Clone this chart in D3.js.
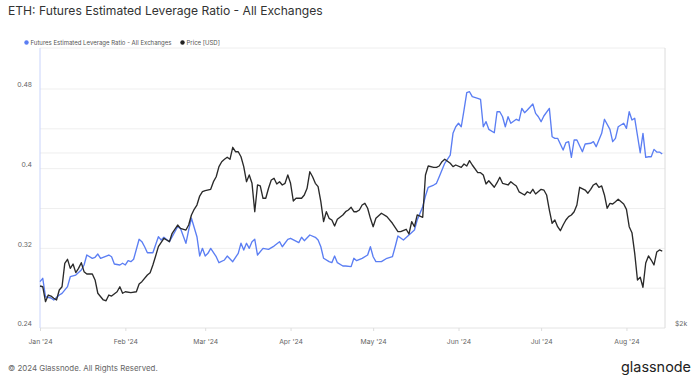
<!DOCTYPE html>
<html><head><meta charset="utf-8">
<script src="https://cdn.jsdelivr.net/npm/d3@7"></script>
<style>body{margin:0;background:#fff;}svg{display:block;font-family:Inter,"Noto Sans",sans-serif;}</style>
</head><body>
<svg id="c" width="699" height="380"></svg>
<script>
// ---- data ----
const titleText = "ETH: Futures Estimated Leverage Ratio - All Exchanges";
const seriesNames = ["Futures Estimated Leverage Ratio - All Exchanges", "Price [USD]"];
const leftTicks = [0.24, 0.32, 0.40, 0.48];
const leftGrid = [0.28, 0.32, 0.36, 0.40, 0.44, 0.48];
const rightTicks = [2000];
const rightGrid = [4000];

const levDates = ["2024-01-01","2024-01-02","2024-01-03","2024-01-05","2024-01-06","2024-01-08","2024-01-09","2024-01-11","2024-01-12","2024-01-14","2024-01-16","2024-01-17","2024-01-18","2024-01-20","2024-01-21","2024-01-22","2024-01-23","2024-01-26","2024-01-27","2024-01-28","2024-01-30","2024-01-31","2024-02-01","2024-02-02","2024-02-03","2024-02-04","2024-02-06","2024-02-07","2024-02-08","2024-02-09","2024-02-11","2024-02-13","2024-02-14","2024-02-15","2024-02-17","2024-02-19","2024-02-20","2024-02-21","2024-02-23","2024-02-24","2024-02-25","2024-02-27","2024-02-28","2024-02-29","2024-03-01","2024-03-02","2024-03-03","2024-03-05","2024-03-06","2024-03-08","2024-03-09","2024-03-11","2024-03-13","2024-03-14","2024-03-15","2024-03-16","2024-03-17","2024-03-18","2024-03-19","2024-03-20","2024-03-22","2024-03-24","2024-03-26","2024-03-28","2024-03-29","2024-03-31","2024-04-01","2024-04-04","2024-04-05","2024-04-06","2024-04-08","2024-04-10","2024-04-11","2024-04-12","2024-04-13","2024-04-15","2024-04-16","2024-04-17","2024-04-18","2024-04-20","2024-04-21","2024-04-23","2024-04-24","2024-04-25","2024-04-27","2024-04-29","2024-04-30","2024-05-01","2024-05-02","2024-05-04","2024-05-06","2024-05-08","2024-05-09","2024-05-10","2024-05-12","2024-05-14","2024-05-16","2024-05-17","2024-05-19","2024-05-20","2024-05-21","2024-05-23","2024-05-24","2024-05-25","2024-05-27","2024-05-29","2024-05-30","2024-05-31","2024-06-01","2024-06-02","2024-06-03","2024-06-04","2024-06-05","2024-06-06","2024-06-08","2024-06-09","2024-06-10","2024-06-11","2024-06-12","2024-06-14","2024-06-15","2024-06-16","2024-06-17","2024-06-18","2024-06-19","2024-06-20","2024-06-22","2024-06-23","2024-06-24","2024-06-25","2024-06-26","2024-06-28","2024-06-29","2024-06-30","2024-07-01","2024-07-02","2024-07-04","2024-07-05","2024-07-06","2024-07-07","2024-07-09","2024-07-10","2024-07-11","2024-07-12","2024-07-13","2024-07-14","2024-07-16","2024-07-17","2024-07-19","2024-07-20","2024-07-21","2024-07-23","2024-07-24","2024-07-26","2024-07-27","2024-07-28","2024-07-29","2024-07-31","2024-08-01","2024-08-02","2024-08-03","2024-08-04","2024-08-06","2024-08-07","2024-08-08","2024-08-09","2024-08-10","2024-08-11","2024-08-12","2024-08-13","2024-08-14"];
const levValues = [0.2865,0.2899,0.2714,0.2701,0.2681,0.2731,0.2748,0.2815,0.2915,0.2932,0.2982,0.3033,0.3133,0.3100,0.3110,0.3143,0.3100,0.3133,0.3116,0.3043,0.3033,0.3050,0.3033,0.3076,0.3066,0.3090,0.3291,0.3267,0.3216,0.3156,0.3156,0.3317,0.3284,0.3311,0.3267,0.3367,0.3417,0.3401,0.3251,0.3384,0.3502,0.3317,0.3123,0.3200,0.3123,0.3150,0.3200,0.3116,0.3056,0.3083,0.3123,0.3066,0.3150,0.3251,0.3183,0.3251,0.3200,0.3267,0.3291,0.3133,0.3200,0.3190,0.3223,0.3267,0.3216,0.3291,0.3301,0.3257,0.3311,0.3277,0.3334,0.3311,0.3284,0.3216,0.3100,0.3066,0.3056,0.3123,0.3056,0.3023,0.3023,0.3016,0.3100,0.3076,0.3100,0.3133,0.3216,0.3116,0.3066,0.3066,0.3100,0.3116,0.3216,0.3324,0.3284,0.3334,0.3384,0.3485,0.3618,0.3726,0.3813,0.3836,0.3853,0.3919,0.4054,0.4137,0.4355,0.4421,0.4456,0.4421,0.4589,0.4763,0.4773,0.4723,0.4707,0.4697,0.4421,0.4472,0.4395,0.4361,0.4572,0.4572,0.4522,0.4421,0.4522,0.4456,0.4496,0.4482,0.4606,0.4562,0.4589,0.4649,0.4556,0.4522,0.4472,0.4529,0.4606,0.4321,0.4305,0.4305,0.4187,0.4261,0.4271,0.4114,0.4288,0.4288,0.4170,0.4248,0.4255,0.4271,0.4221,0.4355,0.4496,0.4395,0.4271,0.4305,0.4421,0.4456,0.4405,0.4572,0.4489,0.4506,0.4160,0.4355,0.4114,0.4120,0.4120,0.4194,0.4167,0.4167,0.4147];

const priceDates = ["2024-01-01","2024-01-02","2024-01-03","2024-01-04","2024-01-05","2024-01-06","2024-01-07","2024-01-08","2024-01-09","2024-01-10","2024-01-11","2024-01-12","2024-01-13","2024-01-14","2024-01-15","2024-01-16","2024-01-17","2024-01-18","2024-01-20","2024-01-21","2024-01-22","2024-01-24","2024-01-25","2024-01-26","2024-01-27","2024-01-29","2024-01-30","2024-01-31","2024-02-01","2024-02-03","2024-02-05","2024-02-06","2024-02-07","2024-02-09","2024-02-10","2024-02-11","2024-02-12","2024-02-13","2024-02-15","2024-02-16","2024-02-17","2024-02-18","2024-02-20","2024-02-21","2024-02-23","2024-02-24","2024-02-25","2024-02-26","2024-02-27","2024-02-28","2024-02-29","2024-03-01","2024-03-03","2024-03-04","2024-03-05","2024-03-06","2024-03-07","2024-03-08","2024-03-09","2024-03-10","2024-03-11","2024-03-12","2024-03-13","2024-03-14","2024-03-15","2024-03-16","2024-03-17","2024-03-18","2024-03-19","2024-03-20","2024-03-21","2024-03-22","2024-03-23","2024-03-24","2024-03-25","2024-03-26","2024-03-27","2024-03-28","2024-03-29","2024-03-30","2024-03-31","2024-04-01","2024-04-02","2024-04-03","2024-04-05","2024-04-06","2024-04-07","2024-04-08","2024-04-09","2024-04-10","2024-04-11","2024-04-12","2024-04-13","2024-04-14","2024-04-15","2024-04-16","2024-04-17","2024-04-18","2024-04-20","2024-04-21","2024-04-22","2024-04-23","2024-04-24","2024-04-25","2024-04-26","2024-04-27","2024-04-28","2024-04-29","2024-04-30","2024-05-01","2024-05-02","2024-05-04","2024-05-06","2024-05-08","2024-05-10","2024-05-11","2024-05-13","2024-05-14","2024-05-15","2024-05-16","2024-05-17","2024-05-19","2024-05-20","2024-05-21","2024-05-23","2024-05-24","2024-05-25","2024-05-26","2024-05-27","2024-05-29","2024-05-30","2024-05-31","2024-06-02","2024-06-03","2024-06-04","2024-06-05","2024-06-06","2024-06-08","2024-06-09","2024-06-10","2024-06-11","2024-06-12","2024-06-14","2024-06-15","2024-06-16","2024-06-17","2024-06-19","2024-06-20","2024-06-21","2024-06-22","2024-06-23","2024-06-25","2024-06-26","2024-06-27","2024-06-28","2024-06-29","2024-07-01","2024-07-02","2024-07-03","2024-07-04","2024-07-05","2024-07-06","2024-07-07","2024-07-08","2024-07-09","2024-07-10","2024-07-11","2024-07-12","2024-07-13","2024-07-14","2024-07-15","2024-07-17","2024-07-18","2024-07-19","2024-07-20","2024-07-21","2024-07-22","2024-07-23","2024-07-24","2024-07-25","2024-07-26","2024-07-27","2024-07-28","2024-07-29","2024-07-31","2024-08-01","2024-08-02","2024-08-03","2024-08-04","2024-08-05","2024-08-06","2024-08-07","2024-08-08","2024-08-09","2024-08-10","2024-08-11","2024-08-12","2024-08-13","2024-08-14"];
const priceValues = [2362,2355,2220,2279,2270,2250,2235,2325,2355,2584,2625,2533,2577,2490,2533,2590,2500,2477,2477,2419,2295,2235,2228,2279,2270,2309,2355,2295,2309,2300,2309,2381,2403,2467,2490,2567,2660,2760,2853,2834,2815,2910,3007,2968,2948,3007,3129,3200,3255,3373,3431,3445,3464,3570,3641,3789,3864,3901,3932,3901,4091,4020,4020,3941,3789,3570,3666,3547,3170,3524,3510,3343,3343,3478,3594,3618,3538,3570,3524,3547,3666,3547,3307,3343,3343,3387,3478,3714,3641,3547,3500,3298,3047,3170,3088,3067,2996,3076,3129,3170,3191,3226,3170,3170,3191,3255,3277,3213,3088,2987,3088,3150,3108,3028,2929,2929,2957,2902,3047,2987,3129,3100,3666,3799,3779,3779,3799,3864,3901,3840,3789,3814,3779,3829,3799,3880,3814,3700,3700,3666,3538,3584,3492,3556,3633,3547,3524,3570,3538,3510,3430,3387,3431,3410,3464,3400,3464,3454,3387,3191,3028,3067,2987,2940,3007,3067,3108,3129,3170,3255,3492,3454,3411,3464,3524,3547,3492,3510,3387,3213,3277,3268,3298,3330,3268,3200,2987,2917,2688,2419,2445,2350,2587,2660,2618,2567,2702,2724,2713];

// ---- layout ----
const svg = d3.select("#c");
const L = 40, R = 665, T = 48, B = 328;
const parse = d3.utcParse("%Y-%m-%d");
const x = d3.scaleUtc().domain([Date.UTC(2024,0,1), Date.UTC(2024,7,15)]).range([L, R]);
const yL = d3.scaleLinear().domain([0.24, 0.5212]).range([B, T]);
const yR = d3.scaleLog().domain([2000, 6062]).range([B, T]);

function fit(sel, w) {
  const n = sel.node();
  const fs = parseFloat(sel.attr("font-size"));
  const cw = n.getComputedTextLength();
  sel.attr("font-size", (fs * w / cw).toFixed(2));
}

// gridlines
svg.append("g").selectAll("line").data(leftGrid).join("line")
  .attr("x1", L).attr("x2", R).attr("y1", d => yL(d)).attr("y2", d => yL(d))
  .attr("stroke", "#efefef").attr("stroke-width", 1);
svg.append("g").selectAll("line").data(rightGrid).join("line")
  .attr("x1", L).attr("x2", R).attr("y1", d => yR(d)).attr("y2", d => yR(d))
  .attr("stroke", "#efefef").attr("stroke-width", 1);

// frame
svg.append("line").attr("x1", L).attr("x2", R).attr("y1", T).attr("y2", T).attr("stroke", "#eeeeee");
svg.append("line").attr("x1", L).attr("x2", R).attr("y1", B).attr("y2", B).attr("stroke", "#e4e4e4");
svg.append("line").attr("x1", R).attr("x2", R).attr("y1", T).attr("y2", B).attr("stroke", "#dcdcdc");
svg.append("line").attr("x1", L).attr("x2", L).attr("y1", T).attr("y2", B).attr("stroke", "#c9d4fb");

// x axis
const xAxis = d3.axisBottom(x).ticks(d3.utcMonth.every(1)).tickFormat(d3.utcFormat("%b '%y")).tickSize(3).tickPadding(8);
const gx = svg.append("g").attr("transform", `translate(0,${B})`).call(xAxis);
gx.select(".domain").remove();
gx.selectAll(".tick line").attr("stroke", "#dddddd");
gx.selectAll(".tick text").attr("fill", "#666").attr("font-size", 6.8).attr("font-family", "Inter, sans-serif");

// left labels
svg.append("g").selectAll("text").data(leftTicks).join("text")
  .attr("x", 32).attr("y", d => yL(d) - 1.6)
  .attr("text-anchor", "end").attr("font-size", 6.8).attr("fill", "#666")
  .text(d => d3.format("~g")(d));
// right labels
svg.append("g").selectAll("text").data(rightTicks).join("text")
  .attr("x", 675).attr("y", d => yR(d) - 1.6)
  .attr("font-size", 6.8).attr("fill", "#666")
  .text(d => "$" + d3.format("~s")(d));

// lines
const levData = levDates.map((d, i) => ({ t: parse(d), v: levValues[i] }));
const priceData = priceDates.map((d, i) => ({ t: parse(d), v: priceValues[i] }));
svg.append("path").datum(levData)
  .attr("d", d3.line().x(d => x(d.t)).y(d => yL(d.v)))
  .attr("fill", "none").attr("stroke", "#5b7ef3").attr("stroke-width", 1.35).attr("stroke-linejoin", "round");
svg.append("path").datum(priceData)
  .attr("d", d3.line().x(d => x(d.t)).y(d => yR(d.v)))
  .attr("fill", "none").attr("stroke", "#2a2a2a").attr("stroke-width", 1.35).attr("stroke-linejoin", "round");

// title
const title = svg.append("text").attr("x", 8).attr("y", 15).attr("font-size", 13).attr("fill", "#333").text(titleText);
fit(title, 315);

// legend
svg.append("circle").attr("cx", 26.5).attr("cy", 42.5).attr("r", 2.2).attr("fill", "#5b7ef3");
const lg1 = svg.append("text").attr("x", 30.5).attr("y", 44.7).attr("font-size", 6.5).attr("fill", "#555").text(seriesNames[0]);
fit(lg1, 141);
svg.append("circle").attr("cx", 182.5).attr("cy", 42.5).attr("r", 2.2).attr("fill", "#222");
svg.append("text").attr("x", 186.5).attr("y", 44.7).attr("font-size", lg1.attr("font-size")).attr("fill", "#555").text(seriesNames[1]);

// footer
const foot = svg.append("text").attr("x", 8).attr("y", 371).attr("font-size", 8).attr("fill", "#666").text("\u00A9 2024 Glassnode. All Rights Reserved.");
fit(foot, 150);
const logo = svg.append("text").attr("x", 691).attr("y", 372).attr("text-anchor", "end").attr("font-size", 17).attr("fill", "#222").attr("font-weight", 400).text("glassnode");
fit(logo, 70);
</script>
</body></html>
